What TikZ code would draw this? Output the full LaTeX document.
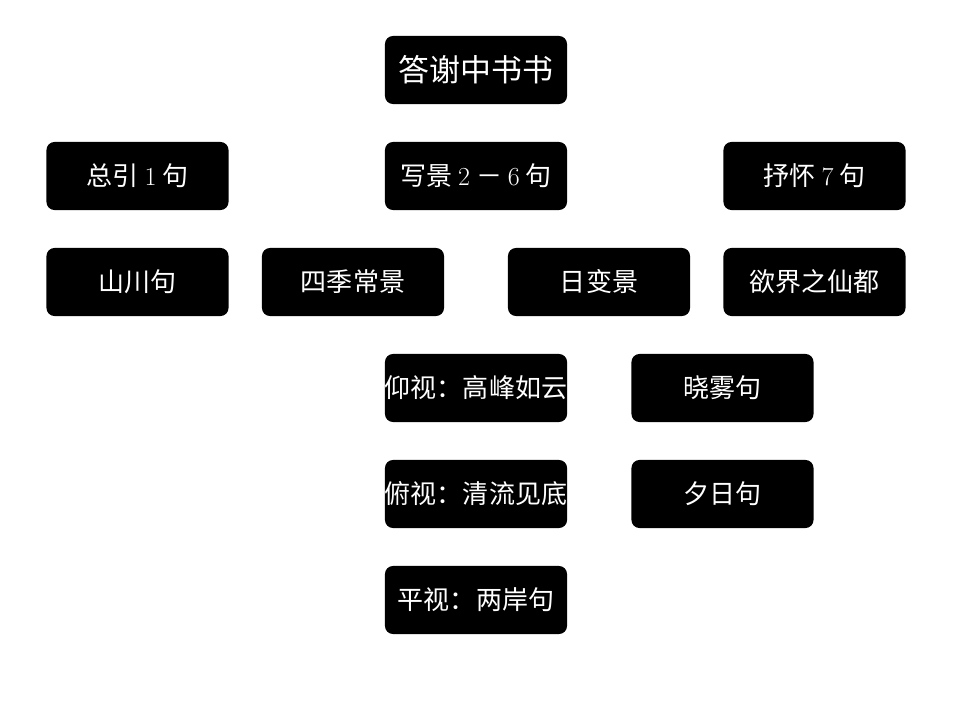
\documentclass[tikz,border=0pt]{standalone}
\usepackage{fontspec}
\newfontfamily\cjk{Noto Sans CJK SC}
\newcommand{\digit}[1]{{\rmfamily #1}}

\begin{document}
\begin{tikzpicture}[x=0.025cm, y=-0.025cm,
  box/.style={fill=black, text=white, rounded corners=0.2cm,
    minimum width=4.55cm, minimum height=1.7cm, inner sep=0pt,
    font=\fontsize{18.5}{20}\selectfont\cjk},
  titlebox/.style={box, font=\fontsize{22}{24}\selectfont\cjk}]
  \useasboundingbox (0,0) rectangle (960,720);

  % Title
  \node[titlebox] (title) at (476,70) {答谢中书书};

  % Three parts
  \node[box] (intro) at (137.5,176) {总引 \digit{1} 句};
  \node[box] (scene) at (476,176) {写景 \digit{2} － \digit{6} 句};
  \node[box] (feel) at (814.5,176) {抒怀 \digit{7} 句};

  % Second level
  \node[box] (hills) at (137.5,282) {山川句};
  \node[box] (season) at (353,282) {四季常景};
  \node[box] (daily) at (599,282) {日变景};
  \node[box] (fairy) at (814.5,282) {欲界之仙都};

  % Views
  \node[box] (up) at (476,388) {仰视：高峰如云};
  \node[box] (down) at (476,494) {俯视：清流见底};
  \node[box] (level) at (476,600) {平视：两岸句};

  % Times of day
  \node[box] (dawn) at (722.5,388) {晓雾句};
  \node[box] (dusk) at (722.5,494) {夕日句};

\end{tikzpicture}
\end{document}
